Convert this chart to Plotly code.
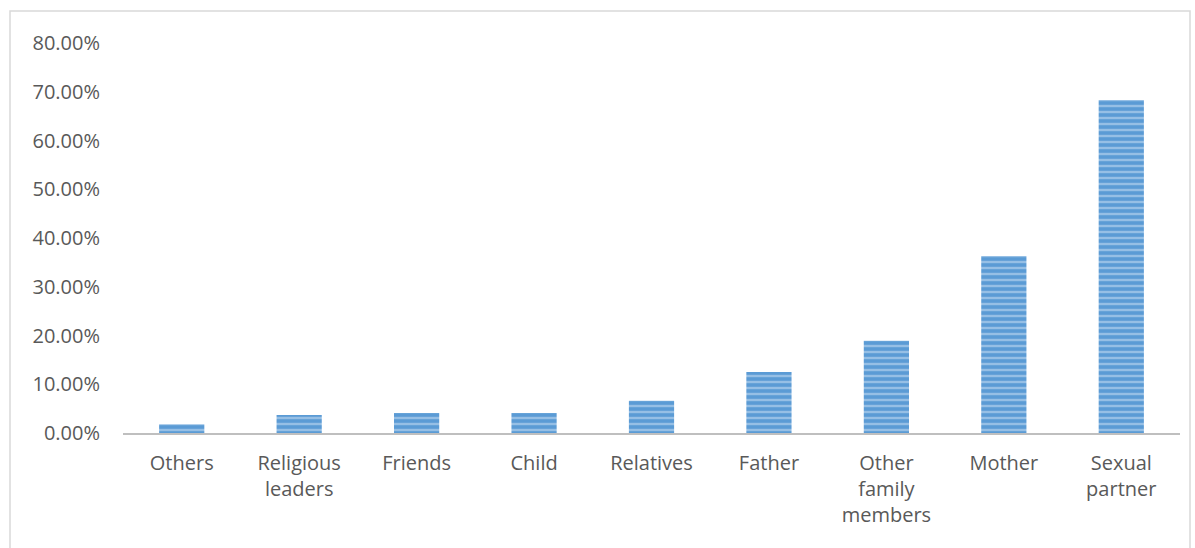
import plotly.graph_objects as go

categories = ["Others", "Religious<br>leaders", "Friends", "Child", "Relatives", "Father",
              "Other<br>family<br>members", "Mother", "Sexual<br>partner"]
values = [1.8, 3.7, 4.1, 4.1, 6.6, 12.5, 18.9, 36.3, 68.3]
y_ticks = [0, 10, 20, 30, 40, 50, 60, 70, 80]
y_tick_labels = [f"{v:.2f}%" for v in y_ticks]

fig = go.Figure()
fig.add_trace(go.Bar(
    x=categories, y=values, width=0.385,
    marker=dict(color="#5B9BD5", line=dict(width=0),
                pattern=dict(shape="-", fgcolor="#D2E4F5", size=6, solidity=0.4, fillmode="overlay")),
))

L, R, T, B = 123, 15, 43, 115
W, H = 1195, 548
pw, ph = W - L - R, H - T - B

fig.update_layout(
    width=W, height=H,
    margin=dict(l=L, r=R, t=T, b=B),
    paper_bgcolor="white", plot_bgcolor="white",
    font=dict(family="Open Sans, Liberation Sans, sans-serif", size=20, color="#595959"),
    showlegend=False,
    bargap=0.6,
    xaxis=dict(showgrid=False, showline=True, linecolor="#BFBFBF", linewidth=2,
               ticks="", ticklabelstandoff=11, tickfont=dict(size=20, color="#595959")),
    yaxis=dict(range=[0, 80], tickvals=y_ticks, ticktext=y_tick_labels, showgrid=False,
               zeroline=False, showline=False, ticks="", ticklabelstandoff=22,
               tickfont=dict(size=20, color="#595959")),
    shapes=[dict(type="rect", xref="paper", yref="paper",
                 x0=(10 - L) / pw, x1=(1190 - L) / pw,
                 y0=-(H - T - ph + 20) / ph, y1=(H - B - 11) / ph,
                 line=dict(color="#D9D9D9", width=1.5), fillcolor="rgba(0,0,0,0)", layer="below")],
)

fig.write_html("out.html")
